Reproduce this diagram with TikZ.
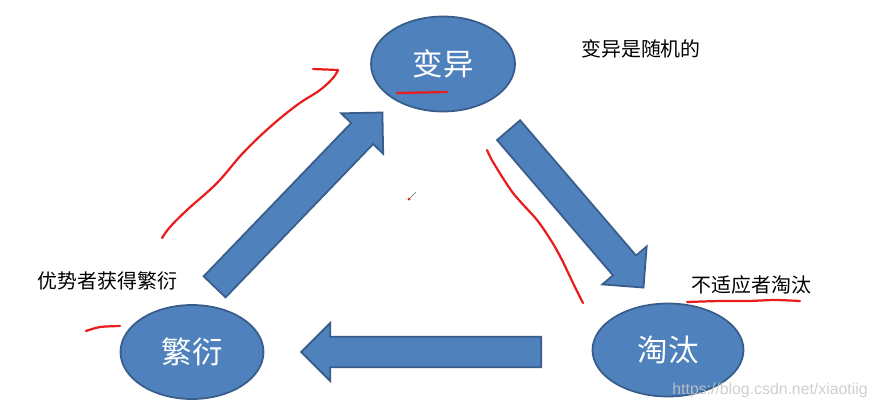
\documentclass[tikz,border=0pt]{standalone}
\usepackage{fontspec}
\setmainfont{Noto Sans CJK SC}
\newfontfamily\wmfont{Liberation Sans}
\usetikzlibrary{shapes.geometric,shapes.arrows}
\definecolor{blocco}{HTML}{4F81BD}
\definecolor{bordo}{HTML}{385D8A}
\definecolor{penna}{RGB}{232,30,30}

\begin{document}
\begin{tikzpicture}[x=0.03cm, y=-0.03cm,
    tappa/.style={ellipse, draw=bordo, fill=blocco, line width=1.5pt, text=white,
        inner sep=0pt, font=\fontsize{26}{30}\selectfont},
    freccia/.style={single arrow, draw=bordo, fill=blocco, line width=1.5pt,
        inner xsep=0pt, inner ysep=0.43cm, single arrow head extend=0.42cm,
        single arrow tip angle=90, anchor=tail},
    nota/.style={font=\fontsize{17}{20}\selectfont, text=black},
    tratto/.style={penna, line width=1.9pt, line cap=round, line join=round}]
        % Sfondo
        \fill[white] (0,0) rectangle (877,409);
        \useasboundingbox (0,0) rectangle (877,409);
        % Ellissi
        \node[tappa, minimum width=4.32cm, minimum height=2.85cm] (variazione) at (443,64) {变异};
        \node[tappa, minimum width=4.29cm, minimum height=2.82cm] (prole) at (192,352) {繁衍};
        \node[tappa, minimum width=4.53cm, minimum height=2.79cm] (scarto) at (668,350) {淘汰};
        % Frecce
        \node[freccia, minimum height=7.26cm, rotate=46.1] (crescita) at (214,287.5) {};
        \node[freccia, minimum height=6.22cm, rotate=-49.4] (selezione) at (508,129.5) {};
        \node[freccia, minimum height=7.2cm, rotate=180] (ritorno) at (542,352) {};
        % Etichette
        \node[nota] (casuale) at (641,49) {变异是随机的};
        \node[nota] (vantaggio) at (107.5,281) {优势者获得繁衍};
        \node[nota] (inadatti) at (751.5,285) {不适应者淘汰};
        \node[font=\wmfont\fontsize{13.5}{16}\selectfont, text=black!22, opacity=0.85] (sito) at (770,390) {https://blog.csdn.net/xiaotiig};
        % Tratti rossi
        \draw[tratto] plot[smooth, tension=0.6] coordinates {(162,238) (170,227) (187,210) (217,183) (243,153) (270,127) (297,105) (320,90) (333,78) (338,70)} -- (313,69);
        \draw[tratto] plot[smooth] coordinates {(487,150) (493,162) (513,193) (537,220) (552,242) (562,260) (573,283) (583,303)};
        \draw[tratto] (397,93) -- (447,92);
        \draw[tratto] plot[smooth] coordinates {(687,302) (720,301) (748,301) (775,300) (800,301)};
        \draw[tratto] plot[smooth] coordinates {(86,331) (100,327) (120,326)};
        % Cursore
        \draw[black!60, line width=0.4pt] (409,199) -- (416,192);
        \fill[penna] (409,199) circle (1.5);
\end{tikzpicture}
\end{document}
